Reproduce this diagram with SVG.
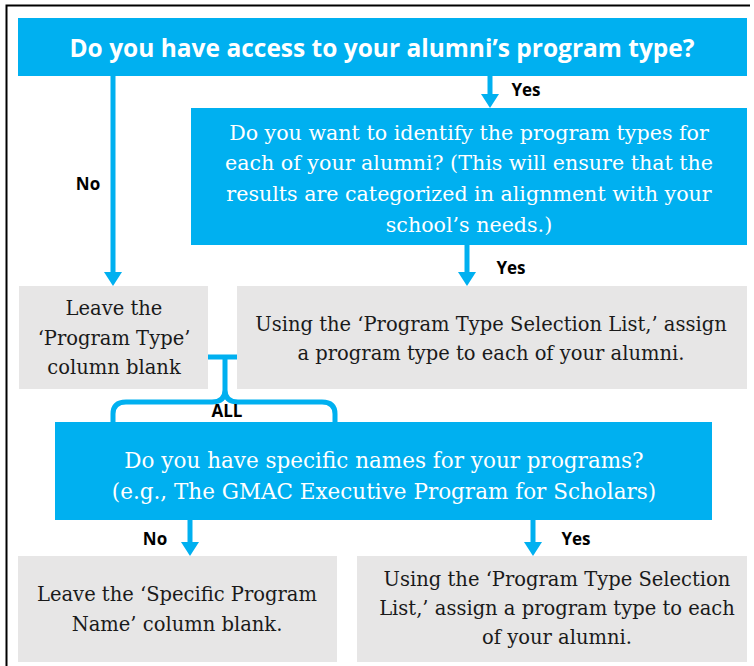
<svg xmlns="http://www.w3.org/2000/svg" width="754" height="666" viewBox="0 0 754 666">
<defs>
<marker id="ah" markerUnits="userSpaceOnUse" viewBox="0 -9 14 18" markerWidth="14" markerHeight="18" refX="0" refY="0" orient="auto">
<path d="M0,-9 L14,0 L0,9 z" fill="#00b0f0"/>
</marker>
<style>
.blue{fill:#00b0f0}
.gray{fill:#e7e6e6}
.title{font-family:"Open Sans","Liberation Sans",sans-serif;font-weight:700;font-size:24.5px;fill:#fff;text-anchor:middle}
.wt{font-family:"DejaVu Serif","Liberation Serif",serif;font-size:20.6px;fill:#fff;text-anchor:middle}
.wt2{font-family:"DejaVu Serif","Liberation Serif",serif;font-size:21.5px;fill:#fff;text-anchor:middle}
.bt{font-family:"DejaVu Serif","Liberation Serif",serif;font-size:19.5px;fill:#1a1a1a;text-anchor:middle}
.lbl{font-family:"Open Sans","Liberation Sans",sans-serif;font-weight:700;font-size:17px;fill:#000;text-anchor:middle}
.conn{stroke:#00b0f0;stroke-width:5;fill:none}
</style>
</defs>
<rect width="754" height="666" fill="#fff"/>
<path d="M6.5,666 L6.5,5.5 L750,5.5" stroke="#000" stroke-width="2" fill="none"/>

<g id="connectors">
<line class="conn" x1="113" y1="76" x2="113" y2="272" marker-end="url(#ah)"/>
<line class="conn" x1="490" y1="76" x2="490" y2="94" marker-end="url(#ah)"/>
<line class="conn" x1="467" y1="245" x2="467" y2="272" marker-end="url(#ah)"/>
<line class="conn" x1="190" y1="520" x2="190" y2="542" marker-end="url(#ah)"/>
<line class="conn" x1="533" y1="520" x2="533" y2="542" marker-end="url(#ah)"/>
<path class="conn" d="M208,357 L238,357 M225,357 L225,390 Q225,402 212,402 L126,402 Q113,402 113,414 L113,422 M225,390 Q225,402 238,402 L322,402 Q335,402 335,414 L335,422"/>
<text class="lbl" x="88" y="190">No</text>
<text class="lbl" x="526" y="96">Yes</text>
<text class="lbl" x="511" y="274">Yes</text>
<text class="lbl" x="227" y="417">ALL</text>
<text class="lbl" x="155" y="545">No</text>
<text class="lbl" x="576" y="545">Yes</text>
</g>

<g id="q1">
<rect class="blue" x="18" y="18" width="729" height="58"/>
<text class="title" x="382" y="57">Do you have access to your alumni’s program type?</text>
</g>

<g id="q2">
<rect class="blue" x="191" y="108" width="556" height="137"/>
<text class="wt" x="469" y="140">Do you want to identify the program types for</text>
<text class="wt" x="469" y="170">each of your alumni? (This will ensure that the</text>
<text class="wt" x="469" y="201">results are categorized in alignment with your</text>
<text class="wt" x="469" y="232">school’s needs.)</text>
</g>

<g id="leave1">
<rect class="gray" x="19" y="286" width="189" height="103"/>
<text class="bt" x="114" y="315">Leave the</text>
<text class="bt" x="114" y="345">‘Program Type’</text>
<text class="bt" x="114" y="374">column blank</text>
</g>

<g id="assign1">
<rect class="gray" x="237" y="286" width="510" height="103"/>
<text class="bt" x="491" y="331">Using the ‘Program Type Selection List,’ assign</text>
<text class="bt" x="491" y="360">a program type to each of your alumni.</text>
</g>

<g id="q3">
<rect class="blue" x="55" y="422" width="657" height="98"/>
<text class="wt2" x="384" y="468">Do you have specific names for your programs?</text>
<text class="wt2" x="384" y="499">(e.g., The GMAC Executive Program for Scholars)</text>
</g>

<g id="leave2">
<rect class="gray" x="18" y="556" width="319" height="106"/>
<text class="bt" x="177" y="601">Leave the ‘Specific Program</text>
<text class="bt" x="177" y="631">Name’ column blank.</text>
</g>

<g id="assign2">
<rect class="gray" x="357" y="556" width="390" height="106"/>
<text class="bt" x="557" y="586">Using the ‘Program Type Selection</text>
<text class="bt" x="557" y="615">List,’ assign a program type to each</text>
<text class="bt" x="557" y="644">of your alumni.</text>
</g>
</svg>
